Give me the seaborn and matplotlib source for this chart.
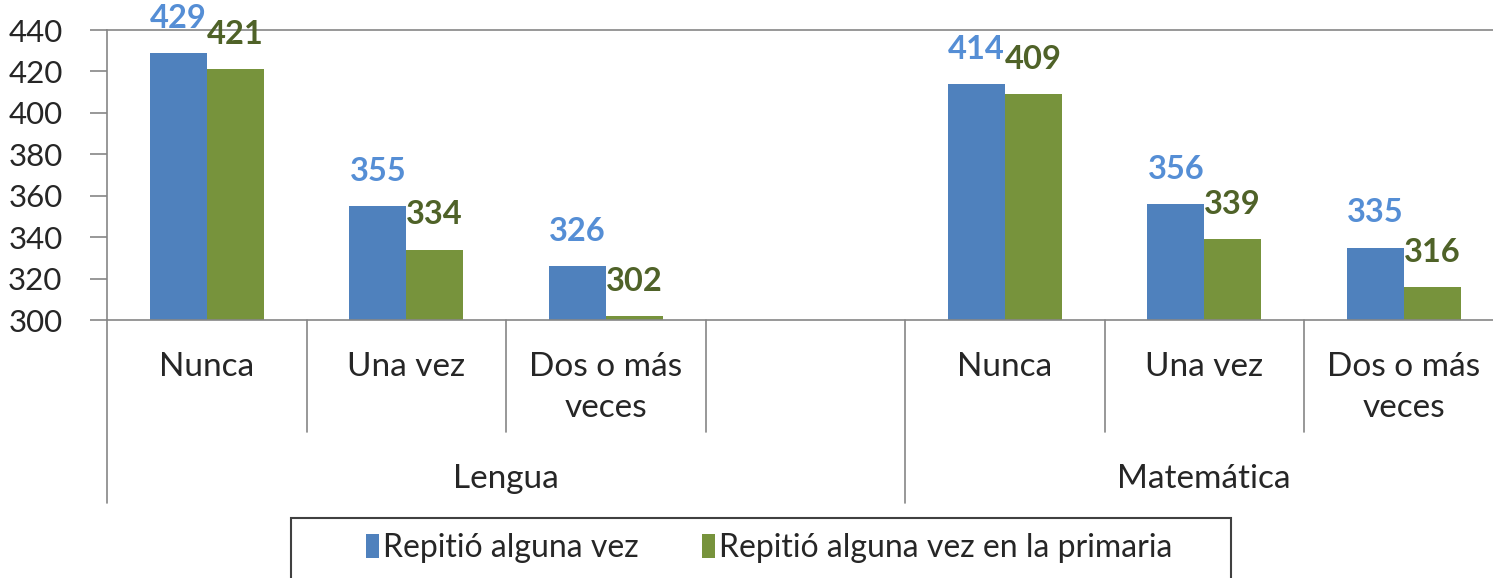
import numpy as np
import pandas as pd
import seaborn as sns
import matplotlib
matplotlib.use('Agg')
from matplotlib import pyplot as plt
from matplotlib.patches import Patch, Rectangle

# data
subjects = ['Lengua', 'Matemática']
categories = ['Nunca', 'Una vez', 'Dos o más\nveces']
series = ['Repitió alguna vez', 'Repitió alguna vez en la primaria']
lengua_vals = [[429, 355, 326], [421, 334, 302]]
mate_vals = [[414, 356, 335], [409, 339, 316]]
yticks = [300, 320, 340, 360, 380, 400, 420, 440]

bar_colors = ['#4F81BD', '#77933C']
label_colors = ['#558ED5', '#4F6228']
grey = '#868686'

# build long table; a blank slot separates the two subjects
slots = [f'L|{c}' for c in categories] + ['blank'] + [f'M|{c}' for c in categories]
rows = []
for s_i, s in enumerate(series):
    for c_i, c in enumerate(categories):
        rows.append({'slot': f'L|{c}', 'serie': s, 'valor': lengua_vals[s_i][c_i]})
        rows.append({'slot': f'M|{c}', 'serie': s, 'valor': mate_vals[s_i][c_i]})
df = pd.DataFrame(rows)

sns.set_style('white')
plt.rcParams['font.family'] = ['Lato', 'DejaVu Sans']

W, H = 1493, 578
fig = plt.figure(figsize=(W / 100, H / 100), dpi=100)
ax_left, ax_top, ax_bottom = 107, 30, 320
slot_w = 199.5
ax = fig.add_axes([ax_left / W, 1 - ax_bottom / H, 7 * slot_w / W, (ax_bottom - ax_top) / H])

sns.barplot(data=df, x='slot', y='valor', hue='serie', order=slots, hue_order=series,
            palette=bar_colors, width=0.57, saturation=1, linewidth=0, ax=ax, legend=False)
ax.set_ylim(300, 440)
ax.set_xlim(-0.5, 6.5)
ax.set_yticks(yticks)
ax.tick_params(axis='y', labelsize=22.5, length=12, width=1.2, color=grey, pad=20, left=True)
ax.tick_params(axis='x', bottom=False, labelbottom=False)
ax.set_xlabel('')
ax.set_ylabel('')
for sp in ['left', 'bottom', 'top']:
    ax.spines[sp].set_color(grey)
    ax.spines[sp].set_linewidth(1.2)
ax.spines['right'].set_visible(False)

# value labels above bars
for s_i, cont in enumerate(ax.containers):
    for bar in cont:
        h = bar.get_height()
        if np.isnan(h):
            continue
        ax.annotate(f'{int(h)}', (bar.get_x() + bar.get_width() / 2, h),
                    xytext=(0, 25), textcoords='offset points', ha='center', va='center',
                    fontsize=23.5, fontweight='bold', color=label_colors[s_i])

# multi-level category axis
def ay(px):
    return (ax_bottom - px) / (ax_bottom - ax_top)

trans = ax.get_xaxis_transform()
for i, key in enumerate(slots):
    if key == 'blank':
        continue
    ax.text(i, ay(352), key.split('|')[1], transform=trans, ha='center', va='top',
            fontsize=24, linespacing=1.45)
for b in range(8):
    x = b - 0.5
    bottom = ay(503) if b in (0, 4, 7) else ay(432)
    ax.plot([x, x], [0, bottom], transform=trans, color=grey, lw=1.2, clip_on=False)
ax.text(1.5, ay(479), subjects[0], transform=trans, ha='center', va='center', fontsize=24)
ax.text(5.0, ay(479), subjects[1], transform=trans, ha='center', va='center', fontsize=24)

# legend with its box running off the bottom
fig.patches.append(Rectangle((291 / W, -0.05), (1231 - 291) / W, 1 - 518 / H + 0.05,
                             transform=fig.transFigure, fill=False, edgecolor='#404040', lw=1.5))
handles = [Patch(facecolor=c, edgecolor='none') for c in bar_colors]
fig.legend(handles, series, loc='center', bbox_to_anchor=(769 / W, 1 - 548 / H), ncol=2,
           frameon=False, fontsize=23, handlelength=0.4, handleheight=0.8,
           handletextpad=0.12, columnspacing=2.0)

fig.savefig('out.png', dpi=100)
